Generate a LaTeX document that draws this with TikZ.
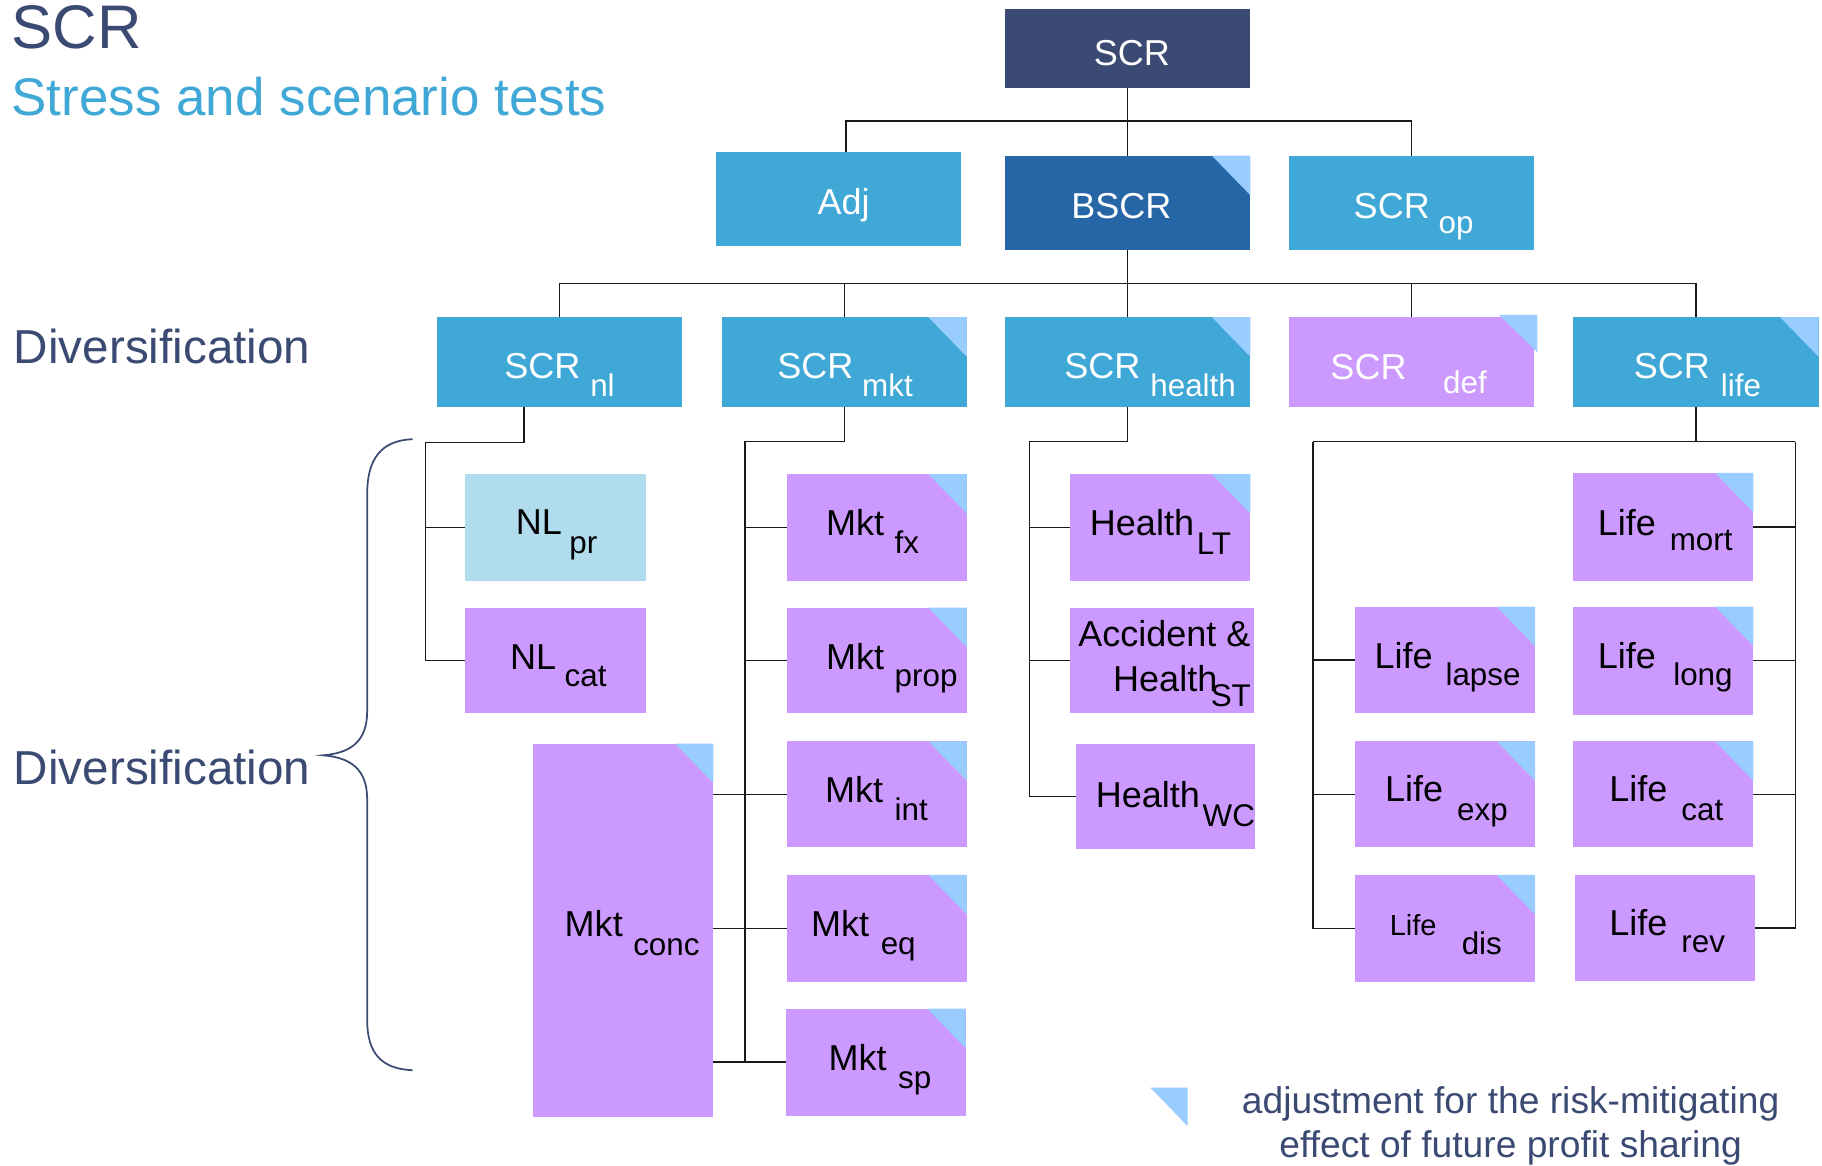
\documentclass[tikz,border=0pt]{standalone}
\usepackage{fontspec}
\setmainfont{Liberation Sans}
\definecolor{navy}{HTML}{3B4A72}
\definecolor{sky}{HTML}{40A8D6}
\definecolor{bscrc}{HTML}{2766A6}
\definecolor{lav}{HTML}{CC99FF}
\definecolor{tric}{HTML}{99CCFF}
\definecolor{pale}{HTML}{B0DCEE}
\definecolor{linec}{HTML}{1A1A1A}
\newcommand\fmain{\fontsize{31}{31}\selectfont}
\newcommand\fsub{\fontsize{27}{27}\selectfont}
\newcommand\duo[8]{%
  \node[lab,text=#8] (#1-a) at (#2,#3) {\fmain #4};
  \node[lab,text=#8] (#1-b) at (#5,#6) {\fsub #7};}
\newcommand\corner[1]{\fill[tric] (#1.north east) -- ++(-33,0) -- ++(33,34) -- cycle;}
\begin{document}
\begin{tikzpicture}[x=1pt,y=-1pt,
  bx/.style={rectangle,inner sep=0pt,outer sep=0pt,draw=none},
  lab/.style={inner sep=0pt,outer sep=0pt,anchor=base west},
  conn/.style={draw=linec,line width=1.2pt},
  brace/.style={draw=navy,line width=1.5pt}]
\useasboundingbox (0,0) rectangle (1568,1003);

% titles
\node[lab,text=navy,font=\fontsize{53}{53}\selectfont] (title) at (10,42) {SCR};
\node[lab,text=sky,font=\fontsize{45.6}{46}\selectfont] (subtitle) at (10,99) {Stress and scenario tests};
\node[lab,text=navy,font=\fontsize{41}{41}\selectfont] (div1) at (12,313) {Diversification};
\node[lab,text=navy,font=\fontsize{41}{41}\selectfont] (div2) at (12,675) {Diversification};

% brace
\draw[brace] (355,378) .. controls (328,379) and (316,395) .. (316,425) -- (316,612)
  .. controls (316,638) and (302,648) .. (278,650)
  .. controls (302,652) and (316,662) .. (316,688) -- (316,878)
  .. controls (316,906) and (328,920) .. (355,921);

% level 0 / 1
\node[bx,fill=navy,minimum width=211pt,minimum height=68pt] (scr) at (970.5,42) {};
\node[lab,text=white,anchor=base,font=\fmain] (scr-a) at (974,56) {SCR};
\node[bx,fill=sky,minimum width=211pt,minimum height=81pt] (adj) at (721.5,171.5) {};
\node[lab,text=white,anchor=base,font=\fmain] (adj-a) at (726,185) {Adj};
\node[bx,fill=bscrc,minimum width=211pt,minimum height=81pt] (bscr) at (970.5,174.5) {};
\corner{bscr}
\node[lab,text=white,anchor=base,font=\fmain] (bscr-a) at (965,188) {BSCR};
\node[bx,fill=sky,minimum width=211pt,minimum height=81pt] (op) at (1214.5,174.5) {};
\duo{op}{1165}{188}{SCR}{1238}{201}{op}{white}

% level 2
\node[bx,fill=sky,minimum width=211pt,minimum height=77pt] (nl) at (481.5,311.5) {};
\node[bx,fill=sky,minimum width=211pt,minimum height=77pt] (mkt) at (726.5,311.5) {};
\node[bx,fill=sky,minimum width=211pt,minimum height=77pt] (health) at (970.5,311.5) {};
\node[bx,fill=lav,minimum width=211pt,minimum height=77pt] (def) at (1214.5,311.5) {};
\node[bx,fill=sky,minimum width=211pt,minimum height=77pt] (life) at (1459.5,311.5) {};
\corner{mkt}\corner{health}\corner{life}
\fill[tric] (1290,271) -- (1323,271) -- (1323,303) -- cycle;
\duo{nl}{434}{326}{SCR}{508}{341}{nl}{white}
\duo{mkt}{669}{326}{SCR}{742}{341}{mkt}{white}
\duo{health}{916}{326}{SCR}{990}{341}{health}{white}
\duo{def}{1145}{327}{SCR}{1242}{339}{def}{white}
\duo{life}{1406}{326}{SCR}{1481}{341}{life}{white}

% level 3 : non-life
\node[bx,fill=pale,minimum width=156pt,minimum height=92pt] (nlpr) at (478,454) {};
\node[bx,fill=lav,minimum width=156pt,minimum height=91pt] (nlcat) at (478,568.5) {};
\duo{nlpr}{444}{460}{NL}{490}{476}{pr}{black}
\duo{nlcat}{439}{576}{NL}{486}{591}{cat}{black}

% market
\node[bx,fill=lav,minimum width=155pt,minimum height=321pt] (mconc) at (536.5,800.5) {};
\node[bx,fill=lav,minimum width=155pt,minimum height=92pt] (mfx) at (754.5,454) {};
\node[bx,fill=lav,minimum width=155pt,minimum height=91pt] (mprop) at (754.5,568.5) {};
\node[bx,fill=lav,minimum width=155pt,minimum height=91pt] (mint) at (754.5,683.5) {};
\node[bx,fill=lav,minimum width=155pt,minimum height=92pt] (meq) at (754.5,799) {};
\node[bx,fill=lav,minimum width=155pt,minimum height=92pt] (msp) at (753.5,914) {};
\corner{mconc}\corner{mfx}\corner{mprop}\corner{mint}\corner{meq}\corner{msp}
\duo{mconc}{486}{806}{Mkt}{545}{822}{conc}{black}
\duo{mfx}{711}{461}{Mkt}{770}{476}{fx}{black}
\duo{mprop}{711}{576}{Mkt}{770}{591}{prop}{black}
\duo{mint}{710}{691}{Mkt}{770}{706}{int}{black}
\duo{meq}{698}{806}{Mkt}{758}{821}{eq}{black}
\duo{msp}{713}{921}{Mkt}{773}{937}{sp}{black}

% health
\node[bx,fill=lav,minimum width=155pt,minimum height=92pt] (hlt) at (998.5,454) {};
\node[bx,fill=lav,minimum width=158pt,minimum height=91pt] (hah) at (1000,568.5) {};
\node[bx,fill=lav,minimum width=154pt,minimum height=91pt] (hwc) at (1003,685.5) {};
\corner{hlt}
\duo{hlt}{938}{461}{Health}{1030}{477}{LT}{black}
\node[lab] (hah-a) at (928,556) {\fmain Accident \&};
\duo{hah}{958}{595}{Health}{1042}{608}{ST}{black}
\duo{hwc}{943}{695}{Health}{1035}{711}{WC}{black}

% life
\node[bx,fill=lav,minimum width=155pt,minimum height=93pt] (lmort) at (1431.5,453.5) {};
\node[bx,fill=lav,minimum width=155pt,minimum height=92pt] (llapse) at (1243.5,568) {};
\node[bx,fill=lav,minimum width=155pt,minimum height=93pt] (llong) at (1431.5,568.5) {};
\node[bx,fill=lav,minimum width=155pt,minimum height=91pt] (lexp) at (1243.5,683.5) {};
\node[bx,fill=lav,minimum width=155pt,minimum height=91pt] (lcat) at (1431.5,683.5) {};
\node[bx,fill=lav,minimum width=155pt,minimum height=92pt] (ldis) at (1243.5,799) {};
\node[bx,fill=lav,minimum width=155pt,minimum height=91pt] (lrev) at (1432.5,798.5) {};
\corner{lmort}\corner{llapse}\corner{llong}\corner{lexp}\corner{lcat}\corner{ldis}
\duo{lmort}{1375}{461}{Life}{1437}{474}{mort}{black}
\duo{llapse}{1183}{575}{Life}{1244}{590}{lapse}{black}
\duo{llong}{1375}{575}{Life}{1440}{590}{long}{black}
\duo{lexp}{1192}{690}{Life}{1254}{706}{exp}{black}
\duo{lcat}{1385}{690}{Life}{1447}{706}{cat}{black}
\node[lab] (ldis-a) at (1196,805) {\fontsize{25}{25}\selectfont Life};
\node[lab] (ldis-b) at (1258,821) {\fsub dis};
\duo{lrev}{1385}{805}{Life}{1447}{820}{rev}{black}

% connectors level 1
\coordinate (j1) at (970.5,104);
\draw[conn] (scr.south) -- (j1);
\draw[conn] ([xshift=6.5pt]adj.north) |- (j1) -| (op.north);
\draw[conn] (j1) -- (bscr.north);

% connectors level 2
\coordinate (j2) at (970.5,244);
\draw[conn] (bscr.south) -- (j2);
\draw[conn] (nl.north) |- (j2) -| (life.north);
\draw[conn] (mkt.north) -- (mkt.north |- j2);
\draw[conn] (health.north) -- (j2);
\draw[conn] (def.north) -- (def.north |- j2);

% non-life
\coordinate (nlj) at (366,381);
\draw[conn] ([xshift=-30.5pt]nl.south) |- (nlj) |- (nlcat.west);
\draw[conn] (nlpr.west) -- (nlpr.west -| nlj);

% market
\coordinate (mj) at (641,380);
\draw[conn] (mkt.south) |- (mj) |- (msp.west);
\draw[conn] (mfx.west) -- (mfx.west -| mj);
\draw[conn] (mprop.west) -- (mprop.west -| mj);
\draw[conn] (mint.west) -- (mint.west -| mconc.east);
\draw[conn] (meq.west) -- (meq.west -| mconc.east);
\draw[conn] (msp.west) -- (msp.west -| mconc.east);

% health
\coordinate (hj) at (886,380);
\draw[conn] (health.south) |- (hj) |- (hwc.west);
\draw[conn] (hlt.west) -- (hlt.west -| hj);
\draw[conn] (hah.west) -- (hah.west -| hj);

% life
\coordinate (lj) at (1130,380);
\coordinate (rj) at (1545,380);
\draw[conn] (life.south) -- (life.south |- lj);
\draw[conn] (lj) -- (rj);
\draw[conn] (lj) |- (ldis.west);
\draw[conn] (llapse.west) -- (llapse.west -| lj);
\draw[conn] (lexp.west) -- (lexp.west -| lj);
\draw[conn] (rj) |- (lrev.east);
\draw[conn] (lmort.east) -- (lmort.east -| rj);
\draw[conn] (llong.east) -- (llong.east -| rj);
\draw[conn] (lcat.east) -- (lcat.east -| rj);

% legend
\fill[tric] (990,936) -- (1022,936) -- (1022,969) -- cycle;
\node[lab,anchor=base,text=navy,font=\fontsize{32}{32}\selectfont] (leg1) at (1300,958) {adjustment for the risk-mitigating};
\node[lab,anchor=base,text=navy,font=\fontsize{32}{32}\selectfont] (leg2) at (1300,996) {effect of future profit sharing};
\end{tikzpicture}
\end{document}
